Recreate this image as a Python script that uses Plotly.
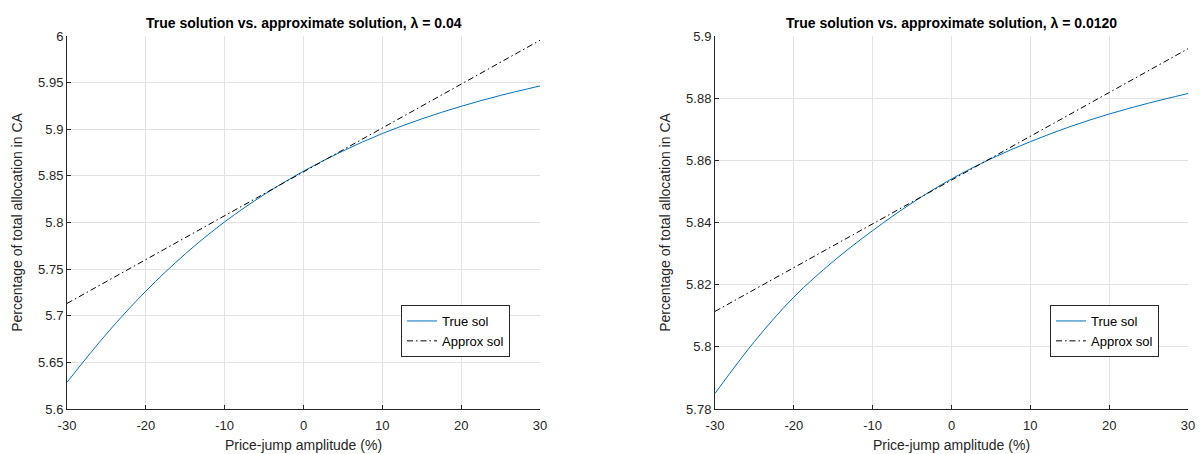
import plotly.graph_objects as go

# ---- data ----
jump_pct = [-30, -25, -20, -15, -10, -5, 0, 5, 10, 15, 20, 25, 30]

true_sol_l = [5.6286, 5.6805, 5.7264, 5.7663, 5.8007, 5.8299, 5.855, 5.8767, 5.8954, 5.9111, 5.9246, 5.9363, 5.9464]
approx_x = [-30, -20, -10, 0, 10, 20, 30]
approx_sol_l = [5.7132, 5.7603, 5.8073, 5.8543, 5.9013, 5.9484, 5.9954]

true_sol_r = [5.7850, 5.8017, 5.8160, 5.8275, 5.8374, 5.8463, 5.8540, 5.8605, 5.8660, 5.8708, 5.8749, 5.8784, 5.8815]
approx_sol_r = [5.8114, 5.8255, 5.8396, 5.8537, 5.8677, 5.8818, 5.8959]

titles = ["True solution vs. approximate solution, λ = 0.04",
          "True solution vs. approximate solution, λ = 0.0120"]
x_label = "Price-jump amplitude (%)"
y_label = "Percentage of total allocation in CA"
x_ticks = [-30, -20, -10, 0, 10, 20, 30]
x_tick_text = ["-30", "-20", "-10", "0", "10", "20", "30"]
y_ticks_l = [5.6, 5.65, 5.7, 5.75, 5.8, 5.85, 5.9, 5.95, 6]
y_tick_text_l = ["5.6", "5.65", "5.7", "5.75", "5.8", "5.85", "5.9", "5.95", "6"]
y_ticks_r = [5.78, 5.8, 5.82, 5.84, 5.86, 5.88, 5.9]
y_tick_text_r = ["5.78", "5.8", "5.82", "5.84", "5.86", "5.88", "5.9"]
series_names = ["True sol", "Approx sol"]

BLUE = "#0072BD"
AXC = "#262626"
GRID = "#e3e3e3"
FONT = "Liberation Sans, Arial, sans-serif"
DASH = "6px,3px,1.5px,3px"

fig = go.Figure()
fig.add_trace(go.Scatter(x=jump_pct, y=true_sol_l, mode="lines", name=series_names[0],
                         line=dict(color=BLUE, width=1, shape="spline"),
                         xaxis="x", yaxis="y", legend="legend"))
fig.add_trace(go.Scatter(x=approx_x, y=approx_sol_l, mode="lines", name=series_names[1],
                         line=dict(color="black", width=1, dash=DASH),
                         xaxis="x", yaxis="y", legend="legend"))
fig.add_trace(go.Scatter(x=jump_pct, y=true_sol_r, mode="lines", name=series_names[0],
                         line=dict(color=BLUE, width=1, shape="spline"),
                         xaxis="x2", yaxis="y2", legend="legend2"))
fig.add_trace(go.Scatter(x=approx_x, y=approx_sol_r, mode="lines", name=series_names[1],
                         line=dict(color="black", width=1, dash=DASH),
                         xaxis="x2", yaxis="y2", legend="legend2"))

W, H = 1200, 454
dom_x1 = [67 / W, 540 / W]
dom_x2 = [715 / W, 1188 / W]
dom_y = [1 - 409 / H, 1 - 36 / H]


def xax(domain, anchor):
    return dict(domain=domain, anchor=anchor, range=[-30, 30],
                tickvals=x_ticks, ticktext=x_tick_text,
                showgrid=True, gridcolor=GRID, gridwidth=1, zeroline=False,
                showline=True, linecolor=AXC, linewidth=1, mirror=False,
                ticks="inside", ticklen=4, tickcolor=AXC, tickwidth=1,
                ticklabelstandoff=4,
                tickfont=dict(family=FONT, size=13, color=AXC),
                title=dict(text=x_label, font=dict(family=FONT, size=14, color=AXC), standoff=8),
                automargin=False)


def yax(domain, anchor, rng, ticks, ticktext):
    return dict(domain=domain, anchor=anchor, range=rng,
                tickvals=ticks, ticktext=ticktext,
                showgrid=True, gridcolor=GRID, gridwidth=1, zeroline=False,
                showline=True, linecolor=AXC, linewidth=1, mirror=False,
                ticks="inside", ticklen=4, tickcolor=AXC, tickwidth=1,
                tickfont=dict(family=FONT, size=13, color=AXC),
                title=dict(text=y_label, font=dict(family=FONT, size=14, color=AXC), standoff=12),
                automargin=False)


legend_common = dict(bgcolor="white", bordercolor=AXC, borderwidth=1,
                     font=dict(family=FONT, size=13, color="black"),
                     xanchor="left", yanchor="top", tracegroupgap=0, itemwidth=30)

fig.update_layout(
    width=W, height=H,
    margin=dict(l=0, r=0, t=0, b=0),
    paper_bgcolor="white", plot_bgcolor="white",
    xaxis=xax(dom_x1, "y"),
    yaxis=yax(dom_y, "x", [5.6, 6.0], y_ticks_l, y_tick_text_l),
    xaxis2=xax(dom_x2, "y2"),
    yaxis2=yax(dom_y, "x2", [5.78, 5.9], y_ticks_r, y_tick_text_r),
    legend=dict(x=401 / W, y=1 - 305 / H, **legend_common),
    legend2=dict(x=1050 / W, y=1 - 305 / H, **legend_common),
    annotations=[
        dict(text="<b>" + titles[0] + "</b>", x=(dom_x1[0] + dom_x1[1]) / 2, y=1 - 23 / H,
             xref="paper", yref="paper", showarrow=False, xanchor="center", yanchor="middle",
             font=dict(family=FONT, size=14, color="black")),
        dict(text="<b>" + titles[1] + "</b>", x=(dom_x2[0] + dom_x2[1]) / 2, y=1 - 23 / H,
             xref="paper", yref="paper", showarrow=False, xanchor="center", yanchor="middle",
             font=dict(family=FONT, size=14, color="black")),
    ],
)

fig.write_html("out.html", config={"displayModeBar": False},
               post_script="document.body.style.margin='0';")
